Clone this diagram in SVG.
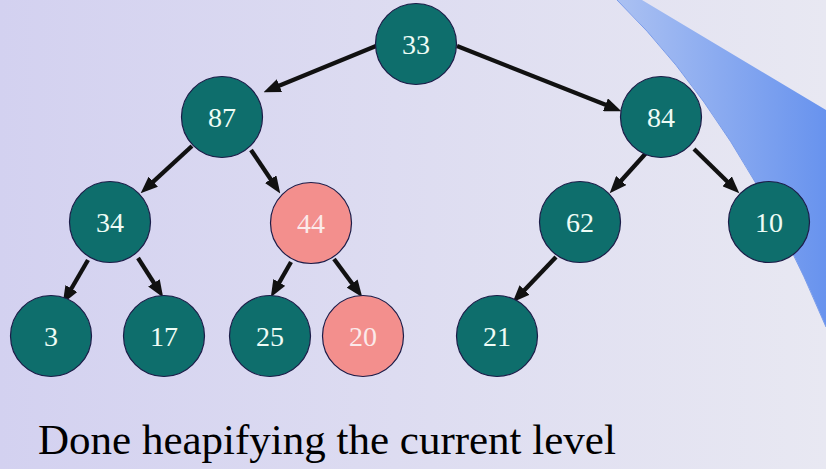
<svg xmlns="http://www.w3.org/2000/svg" width="826" height="469" viewBox="0 0 826 469">
<defs>
<linearGradient id="bg" x1="0" y1="0" x2="1" y2="0">
<stop offset="0" stop-color="#d3d1f0"/>
<stop offset="1" stop-color="#e8e8f2"/>
</linearGradient>
<linearGradient id="sw" x1="617" y1="0" x2="826" y2="0" gradientUnits="userSpaceOnUse">
<stop offset="0" stop-color="#abc1f2"/>
<stop offset="1" stop-color="#6893ee"/>
</linearGradient>
<marker id="ah" viewBox="0 0 10 8" refX="6" refY="4" markerWidth="4" markerHeight="3.2" orient="auto">
<path d="M0,0 L10,4 L0,8 z" fill="#111"/>
</marker>
<style>
.n circle{fill:#0e6e6c;stroke:#1c1c48;stroke-width:1.2}
.n.hot circle{fill:#f38f8d}
.serif{font-family:"Liberation Serif","DejaVu Serif","Times New Roman",Times,serif}
.n text{font-size:28px;fill:#eefcf6;text-anchor:middle}
.n.hot text{fill:#fbeaea}
#edges line{stroke:#111;stroke-width:4.3;marker-end:url(#ah)}
</style>
</defs>
<rect width="826" height="469" fill="url(#bg)"/>
<path d="M642,0 L826,110 L826,327 Q740,120 617,0 Z" fill="url(#sw)"/>
<path d="M617,0 Q740,120 826,327" fill="none" stroke="#7a9cea" stroke-width="1"/>
<g id="edges">
<line x1="376" y1="46" x2="269.9" y2="89.6"/>
<line x1="457" y1="46" x2="615" y2="108.6"/>
<line x1="192" y1="146" x2="145.7" y2="188.7"/>
<line x1="251" y1="150" x2="276.4" y2="187.7"/>
<line x1="647" y1="152" x2="614.3" y2="188.2"/>
<line x1="694" y1="149" x2="734.4" y2="188.5"/>
<line x1="88" y1="260" x2="66.2" y2="297.5"/>
<line x1="138" y1="258" x2="159.5" y2="291.6"/>
<line x1="291" y1="262" x2="274.2" y2="291.4"/>
<line x1="334" y1="259" x2="358.2" y2="291.8"/>
<line x1="556" y1="257" x2="517.4" y2="297.4"/>
</g>
<g id="n33" class="n"><circle cx="416" cy="44" r="40.5"/><text class="serif" x="416" y="54">33</text></g>
<g id="n87" class="n"><circle cx="222" cy="117" r="40.5"/><text class="serif" x="222" y="127">87</text></g>
<g id="n84" class="n"><circle cx="661" cy="117" r="40.5"/><text class="serif" x="661" y="127">84</text></g>
<g id="n34" class="n"><circle cx="110" cy="222" r="40.5"/><text class="serif" x="110" y="232">34</text></g>
<g id="n44" class="n hot"><circle cx="311" cy="223" r="40.5"/><text class="serif" x="311" y="233">44</text></g>
<g id="n62" class="n"><circle cx="580" cy="222" r="40.5"/><text class="serif" x="580" y="232">62</text></g>
<g id="n10" class="n"><circle cx="769" cy="222" r="40.5"/><text class="serif" x="769" y="232">10</text></g>
<g id="n3" class="n"><circle cx="51" cy="336" r="40.5"/><text class="serif" x="51" y="346">3</text></g>
<g id="n17" class="n"><circle cx="164" cy="336" r="40.5"/><text class="serif" x="164" y="346">17</text></g>
<g id="n25" class="n"><circle cx="270" cy="336" r="40.5"/><text class="serif" x="270" y="346">25</text></g>
<g id="n20" class="n hot"><circle cx="363" cy="336" r="40.5"/><text class="serif" x="363" y="346">20</text></g>
<g id="n21" class="n"><circle cx="497" cy="336" r="40.5"/><text class="serif" x="497" y="346">21</text></g>
<text class="serif" x="38" y="454" font-size="43" fill="#000">Done heapifying the current level</text>
</svg>
